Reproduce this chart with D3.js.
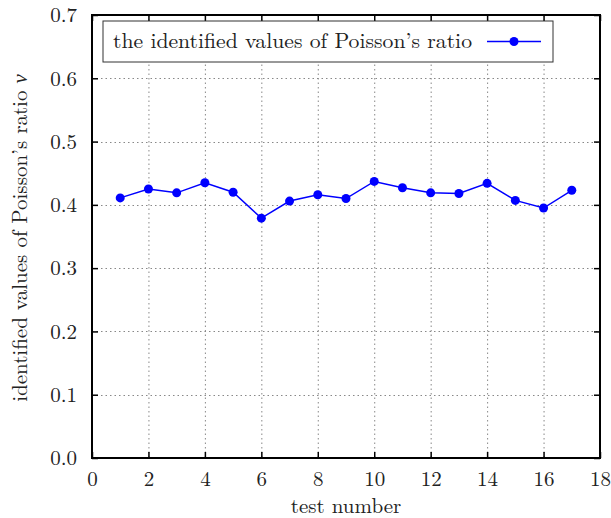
<!DOCTYPE html>
<html>
<head>
<meta charset="utf-8">
<script src="https://cdn.jsdelivr.net/npm/d3@7"></script>
<style>
  body { margin: 0; background: #fff; }
</style>
</head>
<body>
<div id="chart"></div>
<script>
// data
const testNumbers = [1, 2, 3, 4, 5, 6, 7, 8, 9, 10, 11, 12, 13, 14, 15, 16, 17];
const poissonValues = [0.411, 0.425, 0.419, 0.435, 0.420, 0.379, 0.406, 0.416, 0.410,
                       0.437, 0.427, 0.419, 0.418, 0.434, 0.407, 0.395, 0.423];
const xTicks = [0, 2, 4, 6, 8, 10, 12, 14, 16, 18];
const yTicks = [0, 0.1, 0.2, 0.3, 0.4, 0.5, 0.6, 0.7];
const legendLabel = "the identified values of Poisson\u2019s ratio";

const w = 611, h = 518;
const pLeft = 92, pRight = 600, pTop = 15, pBottom = 458;
const tickLen = 6;
const FONT = "'Latin Modern Roman', 'CMU Serif', 'Liberation Serif', serif";
const FS = 21;

const svg = d3.select("#chart").append("svg")
  .attr("width", w).attr("height", h);

const x = d3.scaleLinear().domain([0, 18]).range([pLeft, pRight]);
const y = d3.scaleLinear().domain([0, 0.7]).range([pBottom, pTop]);

// grid
const grid = svg.append("g").attr("stroke", "#888").attr("stroke-width", 1)
  .attr("stroke-dasharray", "1.5,3");
grid.selectAll(".gx").data(xTicks.slice(1, -1)).enter().append("line")
  .attr("x1", d => x(d) + 0.5).attr("x2", d => x(d) + 0.5)
  .attr("y1", pTop).attr("y2", pBottom);
grid.selectAll(".gy").data(yTicks.slice(1, -1)).enter().append("line")
  .attr("y1", d => Math.round(y(d)) + 0.5).attr("y2", d => Math.round(y(d)) + 0.5)
  .attr("x1", pLeft).attr("x2", pRight);

// axes, ticks pointing inward
const axB = svg.append("g").attr("transform", `translate(0,${pBottom})`)
  .call(d3.axisBottom(x).tickValues(xTicks).tickFormat(d3.format("d"))
    .tickSizeInner(-tickLen).tickSizeOuter(0).tickPadding(13));
const axT = svg.append("g").attr("transform", `translate(0,${pTop})`)
  .call(d3.axisTop(x).tickValues(xTicks).tickFormat("")
    .tickSizeInner(-tickLen).tickSizeOuter(0));
const axL = svg.append("g").attr("transform", `translate(${pLeft},0)`)
  .call(d3.axisLeft(y).tickValues(yTicks).tickFormat(d3.format(".1f"))
    .tickSizeInner(-tickLen).tickSizeOuter(0).tickPadding(15));
const axR = svg.append("g").attr("transform", `translate(${pRight},0)`)
  .call(d3.axisRight(y).tickValues(yTicks).tickFormat("")
    .tickSizeInner(-tickLen).tickSizeOuter(0));

[axB, axT, axL, axR].forEach(a => {
  a.attr("font-family", null).attr("font-size", null);
  a.select(".domain").remove();
  a.selectAll(".tick line").attr("stroke", "#000").attr("stroke-width", 1.5);
  a.selectAll(".tick text").style("font-size", FS + "px").attr("fill", "#222")
    .style("font-family", FONT);
});

// frame
svg.append("rect")
  .attr("x", pLeft).attr("y", pTop)
  .attr("width", pRight - pLeft).attr("height", pBottom - pTop)
  .attr("fill", "none").attr("stroke", "#000").attr("stroke-width", 2);

// series
const pts = testNumbers.map((t, i) => [t, poissonValues[i]]);
svg.append("path")
  .datum(pts)
  .attr("fill", "none").attr("stroke", "#0000ff").attr("stroke-width", 1.5)
  .attr("d", d3.line().x(d => x(d[0])).y(d => y(d[1])));
svg.selectAll(".pt").data(pts).enter().append("circle")
  .attr("cx", d => x(d[0])).attr("cy", d => y(d[1]))
  .attr("r", 4.5).attr("fill", "#0000ff");

// legend
const lg = svg.append("g");
lg.append("rect")
  .attr("x", 103).attr("y", 21).attr("width", 450).attr("height", 41)
  .attr("fill", "#fff").attr("stroke", "#333").attr("stroke-width", 1);
lg.append("text")
  .attr("x", 113).attr("y", 48)
  .style("font-family", FONT).style("font-size", FS + "px").attr("fill", "#222")
  .attr("textLength", 359).attr("lengthAdjust", "spacingAndGlyphs")
  .text(legendLabel);
lg.append("line")
  .attr("x1", 487).attr("x2", 541).attr("y1", 41.5).attr("y2", 41.5)
  .attr("stroke", "#0000ff").attr("stroke-width", 1.5);
lg.append("circle").attr("cx", 514).attr("cy", 41.5).attr("r", 4.5)
  .attr("fill", "#0000ff");

// axis titles
svg.append("text")
  .attr("x", 346).attr("y", 513)
  .attr("text-anchor", "middle")
  .style("font-family", FONT).style("font-size", FS + "px").attr("fill", "#222")
  .text("test number");
const yt = svg.append("text")
  .attr("transform", `translate(27,238) rotate(-90)`)
  .attr("text-anchor", "middle")
  .style("font-family", FONT).style("font-size", FS + "px").attr("fill", "#222");
yt.append("tspan").text("identified values of Poisson\u2019s ratio ");
yt.append("tspan").attr("font-style", "italic").text("\u03bd");
</script>
</body>
</html>
